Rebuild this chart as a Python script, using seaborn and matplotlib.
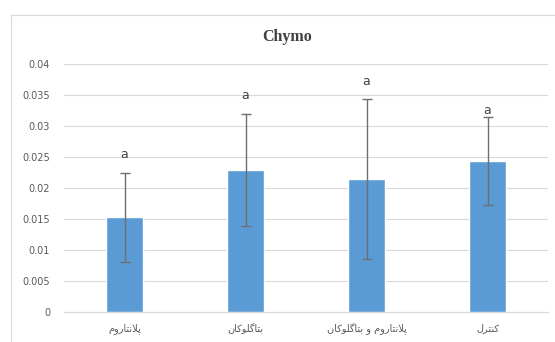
import matplotlib
matplotlib.use("Agg")
import matplotlib.pyplot as plt
from matplotlib.lines import Line2D
import numpy as np
import pandas as pd
import seaborn as sns

# Treatment groups, means, error half-widths and significance letters
groups = ["پلانتاروم", "بتاگلوکان", "پلانتاروم و بتاگلوکان", "کنترل"]
means = [0.0153, 0.0229, 0.0214, 0.0244]
errors = [0.0072, 0.0091, 0.0129, 0.0071]
letters = ["a", "a", "a", "a"]
y_ticks = [0, 0.005, 0.01, 0.015, 0.02, 0.025, 0.03, 0.035, 0.04]
y_tick_labels = ["0", "0.005", "0.01", "0.015", "0.02", "0.025", "0.03", "0.035", "0.04"]

# --- minimal Persian shaping (matplotlib does no contextual joining / RTL) ---
FORMS = {  # isolated, final, initial, medial
    "ا": ("\uFE8D", "\uFE8E", None, None),
    "ب": ("\uFE8F", "\uFE90", "\uFE91", "\uFE92"),
    "پ": ("\uFB56", "\uFB57", "\uFB58", "\uFB59"),
    "ت": ("\uFE95", "\uFE96", "\uFE97", "\uFE98"),
    "ر": ("\uFEAD", "\uFEAE", None, None),
    "ل": ("\uFEDD", "\uFEDE", "\uFEDF", "\uFEE0"),
    "م": ("\uFEE1", "\uFEE2", "\uFEE3", "\uFEE4"),
    "ن": ("\uFEE5", "\uFEE6", "\uFEE7", "\uFEE8"),
    "و": ("\uFEED", "\uFEEE", None, None),
    "ک": ("\uFB8E", "\uFB8F", "\uFB90", "\uFB91"),
    "گ": ("\uFB92", "\uFB93", "\uFB94", "\uFB95"),
}


def joins_left(ch):
    return ch in FORMS and FORMS[ch][2] is not None


def shape(text):
    out = []
    i = 0
    n = len(text)
    while i < n:
        ch = text[i]
        if ch not in FORMS:
            out.append(ch)
            i += 1
            continue
        prev = text[i - 1] if i > 0 else ""
        from_prev = joins_left(prev)
        # lam-alef ligature
        if ch == "ل" and i + 1 < n and text[i + 1] == "ا":
            out.append("\uFEFC" if from_prev else "\uFEFB")
            i += 2
            continue
        nxt = text[i + 1] if i + 1 < n else ""
        to_next = joins_left(ch) and nxt in FORMS
        iso, fin, ini, med = FORMS[ch]
        if from_prev and to_next:
            out.append(med)
        elif from_prev:
            out.append(fin)
        elif to_next:
            out.append(ini)
        else:
            out.append(iso)
        i += 1
    return "".join(out)[::-1]


df = pd.DataFrame({"group": groups, "mean": means, "err": errors})

sns.set_theme(style="white")
plt.rcParams["font.family"] = ["DejaVu Sans"]

fig = plt.figure(figsize=(5.55, 3.42), dpi=100)
ax = fig.add_axes([64 / 555, 30 / 342, (548 - 64) / 555, (312 - 64) / 342])

# outer chart frame (top and left edges; the rest runs past the canvas)
frame_x = 10.5 / 555
frame_y = 1 - 14.5 / 342
fig.add_artist(Line2D([frame_x, 1.0], [frame_y, frame_y], transform=fig.transFigure,
                      color="#D9D9D9", linewidth=0.8))
fig.add_artist(Line2D([frame_x, frame_x], [0.0, frame_y], transform=fig.transFigure,
                      color="#D9D9D9", linewidth=0.8))

sns.barplot(data=df, x="group", y="mean", color="#5B9BD5", saturation=1,
            width=0.31, errorbar=None, ax=ax, zorder=3)

pos = np.arange(len(groups))
ax.errorbar(pos, df["mean"], yerr=df["err"], fmt="none", ecolor="#6E6E6E",
            elinewidth=1.0, capsize=3.5, capthick=1.0, zorder=4)

letter_offsets = [8, 8, 8, 0]
for p, m, e, lab, off in zip(pos, means, errors, letters, letter_offsets):
    ax.annotate(lab, (p, m + e), xytext=(0, off), textcoords="offset points",
                ha="center", va="bottom", fontsize=9, color="#404040", zorder=5)

ax.set_ylim(0, 0.04)
ax.set_xlim(-0.5, len(groups) - 0.5)
ax.set_yticks(y_ticks)
ax.set_yticklabels(y_tick_labels)
ax.set_xticks(pos)
ax.set_xticklabels([shape(g) for g in groups])
ax.set_xlabel("")
ax.set_ylabel("")
ax.grid(axis="y", color="#D9D9D9", linewidth=0.8, zorder=0)
ax.set_axisbelow(True)
for s in ["top", "right", "left"]:
    ax.spines[s].set_visible(False)
ax.spines["bottom"].set_color("#D9D9D9")
ax.spines["bottom"].set_linewidth(0.8)
ax.tick_params(axis="both", length=0, labelsize=7, colors="#595959")
ax.tick_params(axis="y", pad=10)
ax.tick_params(axis="x", pad=8)

fig.text(287 / 555, 1 - 37 / 342, "Chymo", ha="center", va="center",
         fontsize=11.5, fontweight="bold", color="#404040",
         family=["Liberation Serif", "DejaVu Serif"])

fig.savefig("out.png", dpi=100, facecolor="white")
